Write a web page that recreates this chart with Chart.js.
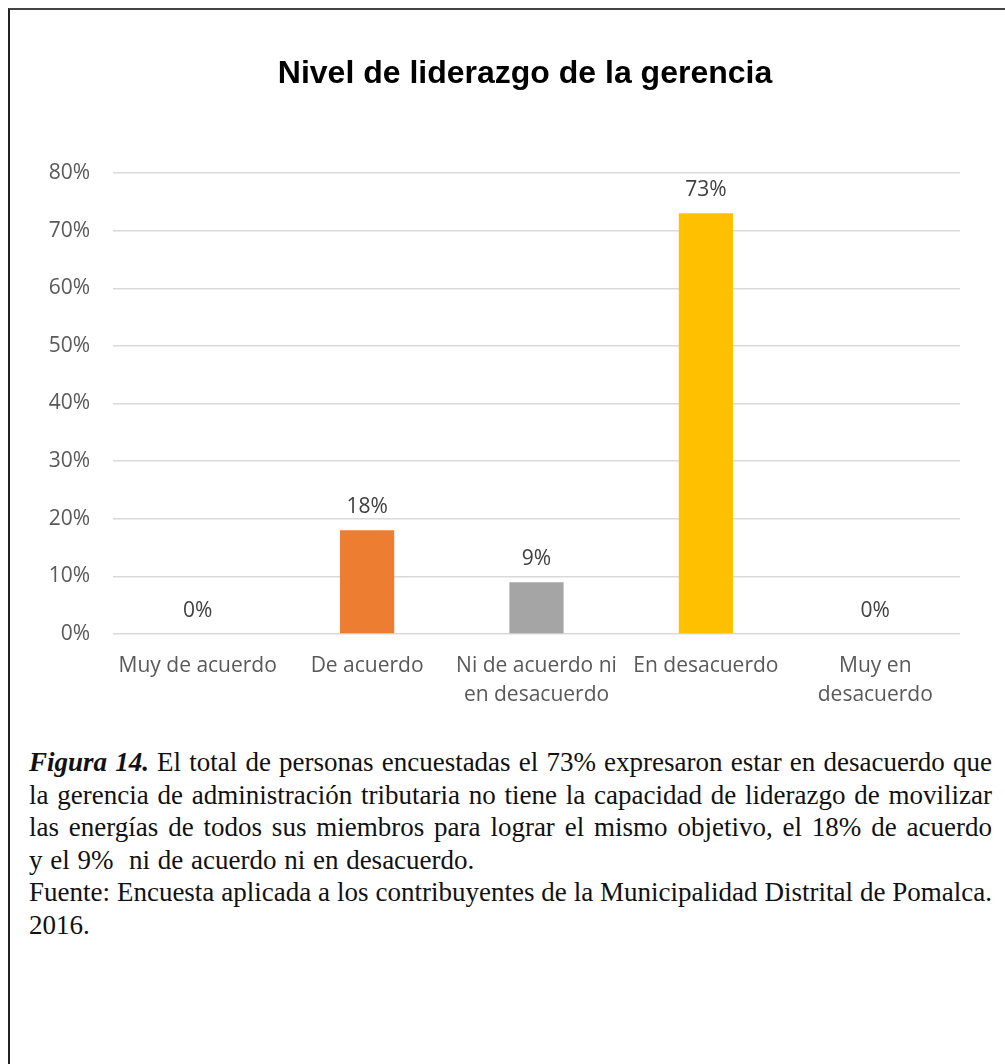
<!DOCTYPE html>
<html lang="es">
<head>
<meta charset="utf-8">
<title>Nivel de liderazgo de la gerencia</title>
<script src="https://cdn.jsdelivr.net/npm/chart.js@4/dist/chart.umd.min.js"></script>
<style>
  html, body { margin: 0; padding: 0; background: #fff; }
  body { width: 1005px; height: 1064px; position: relative; overflow: hidden; }
  .frame {
    position: absolute; left: 8px; top: 8px; width: 1020px; height: 1080px;
    border-left: 2px solid #222; border-top: 2px solid #444; box-sizing: border-box;
  }
  #wrap { position: absolute; left: 0; top: 0; width: 1050px; height: 730px; }
  .caption {
    position: absolute; left: 29px; top: 746px; width: 963px;
    font-family: "Liberation Serif", "Times New Roman", serif;
    font-size: 27px; line-height: 32.6px; color: #111;
  }
  .caption div { white-space: nowrap; }
  .caption .j { text-align: justify; text-align-last: justify; white-space: normal; }
</style>
</head>
<body>
<div class="frame"></div>
<div id="wrap"><canvas id="chart"></canvas></div>
<div class="caption">
  <div class="j"><b><i>Figura 14.</i></b> El total de personas encuestadas el 73% expresaron estar en desacuerdo que</div>
  <div class="j">la gerencia de administración tributaria no tiene la capacidad de liderazgo de movilizar</div>
  <div class="j">las energías de todos sus miembros para lograr el mismo objetivo, el 18% de acuerdo</div>
  <div style="word-spacing:1px">y el 9%&nbsp; ni de acuerdo ni en desacuerdo.</div>
  <div class="j">Fuente: Encuesta aplicada a los contribuyentes de la Municipalidad Distrital de Pomalca.</div>
  <div>2016.</div>
</div>
<script>
// Survey answers and their shares (percent)
const categories = [
  "Muy de acuerdo",
  "De acuerdo",
  ["Ni de acuerdo ni", "en desacuerdo"],
  "En desacuerdo",
  ["Muy en", "desacuerdo"]
];
const shares = [0, 18, 9, 73, 0];
const barColors = ["#4472C4", "#ED7D31", "#A5A5A5", "#FFC000", "#5B9BD5"];
const yTicks = [0, 10, 20, 30, 40, 50, 60, 70, 80];

const labelFont = { family: "'Open Sans', 'Noto Sans', sans-serif", size: 21 };

// Value labels above each bar
const valueLabels = {
  id: "valueLabels",
  afterDatasetsDraw(chart) {
    const ctx = chart.ctx;
    const meta = chart.getDatasetMeta(0);
    ctx.save();
    ctx.font = `${labelFont.size}px ${labelFont.family}`;
    ctx.fillStyle = "#404040";
    ctx.textAlign = "center";
    ctx.textBaseline = "middle";
    meta.data.forEach((bar, i) => {
      ctx.fillText(shares[i] + "%", bar.x, bar.y - 23);
    });
    ctx.restore();
  }
};

new Chart(document.getElementById("chart"), {
  type: "bar",
  data: {
    labels: categories,
    datasets: [{
      data: shares,
      backgroundColor: barColors,
      borderWidth: 0,
      barPercentage: 1,
      categoryPercentage: 0.32
    }]
  },
  options: {
    responsive: true,
    maintainAspectRatio: false,
    animation: false,
    layout: { padding: { left: 0, right: 0, top: 0, bottom: 6 } },
    plugins: {
      legend: { display: false },
      tooltip: { enabled: false },
      title: {
        display: true,
        text: "Nivel de liderazgo de la gerencia",
        color: "#000",
        font: { family: "'Liberation Sans', Arial, sans-serif", size: 32, weight: "bold", lineHeight: 1.2 },
        padding: { top: 54.8, bottom: 79.8 }
      }
    },
    scales: {
      x: {
        grid: { display: false, drawTicks: false },
        border: { display: false },
        ticks: {
          color: "#595959",
          font: { ...labelFont, lineHeight: 1.38 },
          padding: 17.5,
          maxRotation: 0,
          autoSkip: false
        },
        afterFit(s) { s.height = 90; }
      },
      y: {
        min: 0,
        max: 80,
        afterBuildTicks(s) { s.ticks = yTicks.map(v => ({ value: v })); },
        grid: { color: "#d9d9d9", lineWidth: 1.5, drawTicks: false },
        border: { display: false },
        ticks: {
          color: "#595959",
          font: labelFont,
          padding: 23,
          callback: v => v + "%"
        },
        afterFit(s) { s.width = 113; }
      },
      // empty right-hand margin of the plot (no ticks or lines)
      yRight: {
        position: "right",
        min: 0,
        max: 80,
        grid: { display: false, drawTicks: false },
        border: { display: false },
        ticks: { display: false },
        afterFit(s) { s.width = 90; }
      }
    }
  },
  plugins: [valueLabels]
});
</script>
</body>
</html>
